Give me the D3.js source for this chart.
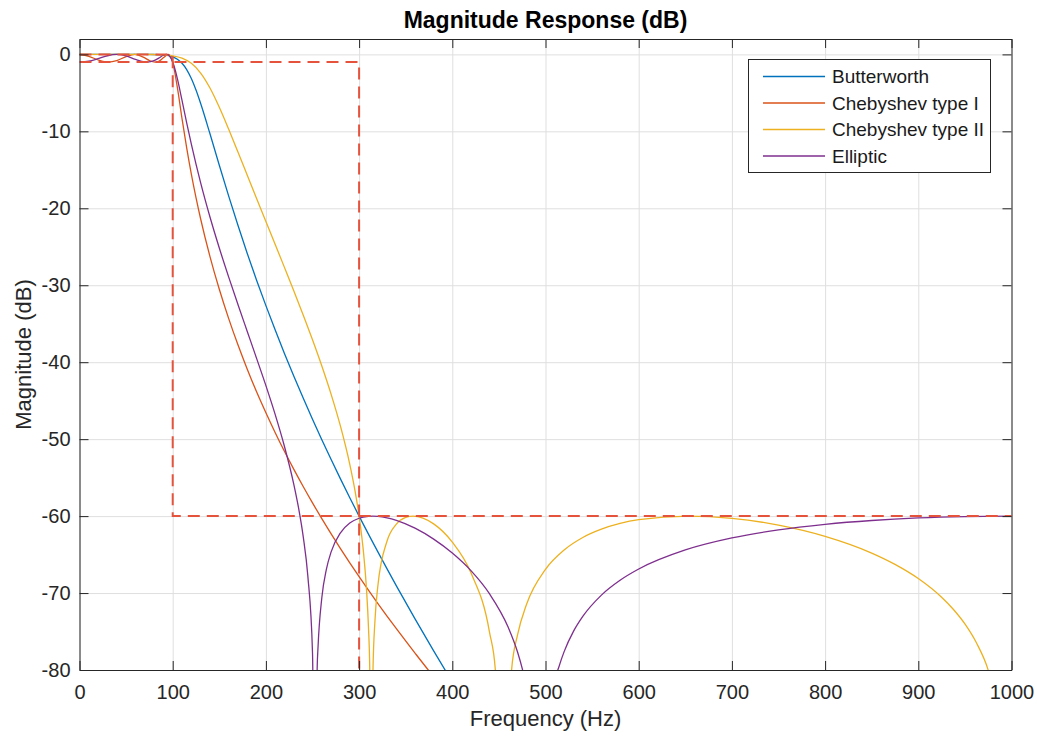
<!DOCTYPE html>
<html><head><meta charset="utf-8">
<script src="https://cdn.jsdelivr.net/npm/d3@7"></script>
<style>body{margin:0;background:#fff}</style>
</head><body>
<svg id="chart" width="1037" height="739"></svg>
<script>
// ---------- data ----------
const seriesNames = ["Butterworth", "Chebyshev type I", "Chebyshev type II", "Elliptic"];

const butterF  = [0, 50, 70, 80, 90, 100, 105, 110, 115, 120, 125, 130, 140, 150, 160, 170, 180, 190, 200, 210, 220, 230, 240, 250, 260, 270, 280, 290, 300, 320, 340, 360, 380, 400];
const butterDB = [0, 0, -0.002, -0.014, -0.076, -0.329, -0.635, -1.159, -1.979, -3.145, -4.638, -6.391, -10.32, -14.41, -18.39, -22.21, -25.87, -29.35, -32.65, -35.83, -38.89, -41.83, -44.66, -47.41, -50.07, -52.65, -55.16, -57.61, -60.00, -64.62, -69.06, -73.35, -77.51, -81.57];

const cheb1F  = [0, 10, 20, 25, 31.1, 40, 50, 59.1, 70, 75, 81.2, 85, 90, 95.3, 97.5, 100, 105, 110, 115, 120, 125, 130, 140, 150, 160, 170, 180, 190, 200, 210, 220, 230, 240, 250, 260, 270, 280, 290, 300, 320, 340, 360, 380, 400];
const cheb1DB = [0, -0.248, -0.730, -0.912, -1.000, -0.811, -0.289, 0, -0.458, -0.796, -1.000, -0.894, -0.444, 0, -0.200, -1.000, -4.289, -8.343, -12.156, -15.565, -18.620, -21.389, -26.273, -30.521, -34.306, -37.745, -40.911, -43.852, -46.575, -49.157, -51.610, -53.930, -56.152, -58.283, -60.332, -62.308, -64.218, -66.071, -67.870, -71.330, -74.632, -77.802, -80.866, -83.7];

const cheb2F  = [0, 50, 70, 80, 90, 100, 110, 120, 130, 140, 150, 160, 170, 180, 190, 200, 210, 220, 230, 240, 250, 260, 270, 280, 290, 295, 300, 305, 308, 310, 311.45, 313, 314.9, 317, 320, 330, 340, 350, 358, 380, 400, 420, 440, 446.2, 454.5, 463.6, 470, 480, 500, 520, 540, 560, 580, 600, 653, 700, 750, 800, 850, 875, 900, 925, 937.5, 950, 962.5, 975, 990];
const cheb2DB = [0, 0, -0.004, -0.017, -0.060, -0.180, -0.485, -1.160, -2.423, -4.369, -6.875, -9.706, -12.684, -15.707, -18.730, -21.707, -24.699, -27.711, -30.746, -33.857, -37.086, -40.493, -44.178, -48.316, -53.265, -56.29, -60.00, -65.07, -69.63, -74.30, -80.0, -110, -80.0, -73.63, -69.21, -63.24, -61.04, -60.17, -60.00, -61.01, -63.38, -67.37, -75.13, -80.0, -110, -80.0, -75.44, -71.35, -66.91, -64.40, -62.78, -61.70, -60.96, -60.47, -60.00, -60.29, -61.17, -62.63, -64.80, -66.27, -68.11, -70.54, -72.10, -74.01, -76.50, -80.01, -87.96];

const ellipF  = [0, 10, 20, 30, 40, 50, 60, 70, 72.6, 80, 85, 90, 93.1, 95, 97, 100, 102, 105, 110, 115, 120, 125, 130, 140, 150, 160, 170, 180, 190, 200, 210, 220, 230, 235, 240, 245, 250, 252.9, 255, 256, 260, 265, 270, 280, 290, 300, 310, 314.7, 320, 330, 340, 360, 380, 400, 420, 440, 460, 470, 475, 480, 493.6, 510, 515, 520, 530, 540, 560, 580, 600, 650, 700, 750, 800, 850, 900, 950, 1000];
const ellipDB = [-1, -0.875, -0.549, -0.176, 0, -0.194, -0.642, -0.981, -1.000, -0.817, -0.489, -0.109, 0, -0.061, -0.284, -1.000, -1.735, -3.156, -5.972, -8.886, -11.669, -14.269, -16.697, -21.133, -25.159, -28.909, -32.495, -36.000, -39.501, -43.046, -46.815, -50.985, -55.90, -58.91, -62.63, -67.80, -77.73, -110, -79.84, -76.87, -70.61, -66.85, -64.65, -62.17, -60.91, -60.28, -60.03, -60.00, -60.03, -60.22, -60.55, -61.57, -62.99, -64.80, -67.09, -70.11, -74.45, -77.66, -79.80, -82.58, -110, -81.59, -79.36, -77.61, -74.98, -73.04, -70.27, -68.34, -66.88, -64.40, -62.84, -61.79, -61.07, -60.57, -60.24, -60.06, -60.00];

// specification mask (dashed)
const maskStopF  = [0, 100, 100, 1000];
const maskStopDB = [0, 0, -60, -60];
const maskPassF  = [0, 300, 300];
const maskPassDB = [-1, -1, -80];

const xTicks = [0, 100, 200, 300, 400, 500, 600, 700, 800, 900, 1000];
const yTicks = [0, -10, -20, -30, -40, -50, -60, -70, -80];

// ---------- styles ----------
const colors = ["#0072BD", "#D95319", "#EDB120", "#7E2F8E"];
const maskColor = "#e6533c";
const axisColor = "#262626";
const gridColor = "#dfdfdf";
const fontFam = "'Liberation Sans', Arial, Helvetica, sans-serif";

// ---------- layout ----------
const L = 79.5, R = 1011.5, T = 39, B = 670;
const svg = d3.select("#chart");
const x = d3.scaleLinear().domain([0, 1000]).range([L, R]);
const y = d3.scaleLinear().domain([-80, 2]).range([B, T]);

svg.append("defs").append("clipPath").attr("id", "plotclip")
  .append("rect").attr("x", L).attr("y", T).attr("width", R - L).attr("height", B - T);

// grid
const gx = svg.append("g").attr("transform", `translate(0,${B})`)
  .call(d3.axisBottom(x).tickValues(xTicks).tickSize(-(B - T)).tickFormat(() => ""));
gx.select(".domain").remove();
gx.selectAll("line").attr("stroke", gridColor).attr("stroke-width", 1);
const gy = svg.append("g").attr("transform", `translate(${L},0)`)
  .call(d3.axisLeft(y).tickValues(yTicks).tickSize(-(R - L)).tickFormat(() => ""));
gy.select(".domain").remove();
gy.selectAll("line").attr("stroke", gridColor).attr("stroke-width", 1);

// curves
const line = d3.line().x(d => x(d[0])).y(d => y(d[1])).curve(d3.curveMonotoneX);
const series = [
  { name: seriesNames[0], f: butterF, db: butterDB },
  { name: seriesNames[1], f: cheb1F, db: cheb1DB },
  { name: seriesNames[2], f: cheb2F, db: cheb2DB },
  { name: seriesNames[3], f: ellipF, db: ellipDB }
];
const plotG = svg.append("g").attr("clip-path", "url(#plotclip)");
series.forEach((s, i) => {
  plotG.append("path")
    .datum(s.f.map((f, k) => [f, s.db[k]]))
    .attr("d", line)
    .attr("fill", "none")
    .attr("stroke", colors[i])
    .attr("stroke-width", 1.3);
});

// mask
const lin = d3.line().x(d => x(d[0])).y(d => y(d[1]));
[[maskStopF, maskStopDB], [maskPassF, maskPassDB]].forEach(([fs, ds]) => {
  plotG.append("path")
    .datum(fs.map((f, k) => [f, ds[k]]))
    .attr("d", lin)
    .attr("fill", "none")
    .attr("stroke", maskColor)
    .attr("stroke-width", 2)
    .attr("stroke-dasharray", "12,7");
});

// axes
function styleAxis(g) {
  g.attr("color", axisColor).attr("font-size", 20).attr("font-family", fontFam);
  g.selectAll("line, path").attr("stroke-width", 1);
}
svg.append("g").attr("transform", `translate(0,${B})`)
  .call(d3.axisBottom(x).tickValues(xTicks).tickSizeInner(-9).tickSizeOuter(0).tickPadding(15).tickFormat(d => String(d)))
  .call(styleAxis);
svg.append("g").attr("transform", `translate(0,${T})`)
  .call(d3.axisTop(x).tickValues(xTicks).tickSizeInner(-9).tickSizeOuter(0).tickFormat(() => ""))
  .call(styleAxis);
svg.append("g").attr("transform", `translate(${L},0)`)
  .call(d3.axisLeft(y).tickValues(yTicks).tickSizeInner(-9).tickSizeOuter(0).tickPadding(9).tickFormat(d => String(d)))
  .call(styleAxis);
svg.append("g").attr("transform", `translate(${R},0)`)
  .call(d3.axisRight(y).tickValues(yTicks).tickSizeInner(-9).tickSizeOuter(0).tickFormat(() => ""))
  .call(styleAxis);

// labels
svg.append("text").attr("x", (L + R) / 2).attr("y", 28).attr("text-anchor", "middle")
  .attr("font-family", fontFam).attr("font-size", 23).attr("font-weight", "bold").attr("fill", "#000")
  .text("Magnitude Response (dB)");
svg.append("text").attr("x", (L + R) / 2).attr("y", 726).attr("text-anchor", "middle")
  .attr("font-family", fontFam).attr("font-size", 22).attr("fill", axisColor)
  .text("Frequency (Hz)");
svg.append("text").attr("transform", `translate(31,${(T + B) / 2}) rotate(-90)`).attr("text-anchor", "middle")
  .attr("font-family", fontFam).attr("font-size", 22).attr("fill", axisColor)
  .text("Magnitude (dB)");

// legend
const lg = svg.append("g");
lg.append("rect").attr("x", 748.5).attr("y", 59.5).attr("width", 242).attr("height", 113)
  .attr("fill", "#fff").attr("stroke", axisColor).attr("stroke-width", 1);
seriesNames.forEach((n, i) => {
  const yy = 76.5 + i * 26.5;
  lg.append("line").attr("x1", 763).attr("x2", 825).attr("y1", yy).attr("y2", yy)
    .attr("stroke", colors[i]).attr("stroke-width", 1.3);
  lg.append("text").attr("x", 832).attr("y", yy + 6.5)
    .attr("font-family", fontFam).attr("font-size", 19).attr("fill", "#1a1a1a").text(n);
});
</script></body></html>
